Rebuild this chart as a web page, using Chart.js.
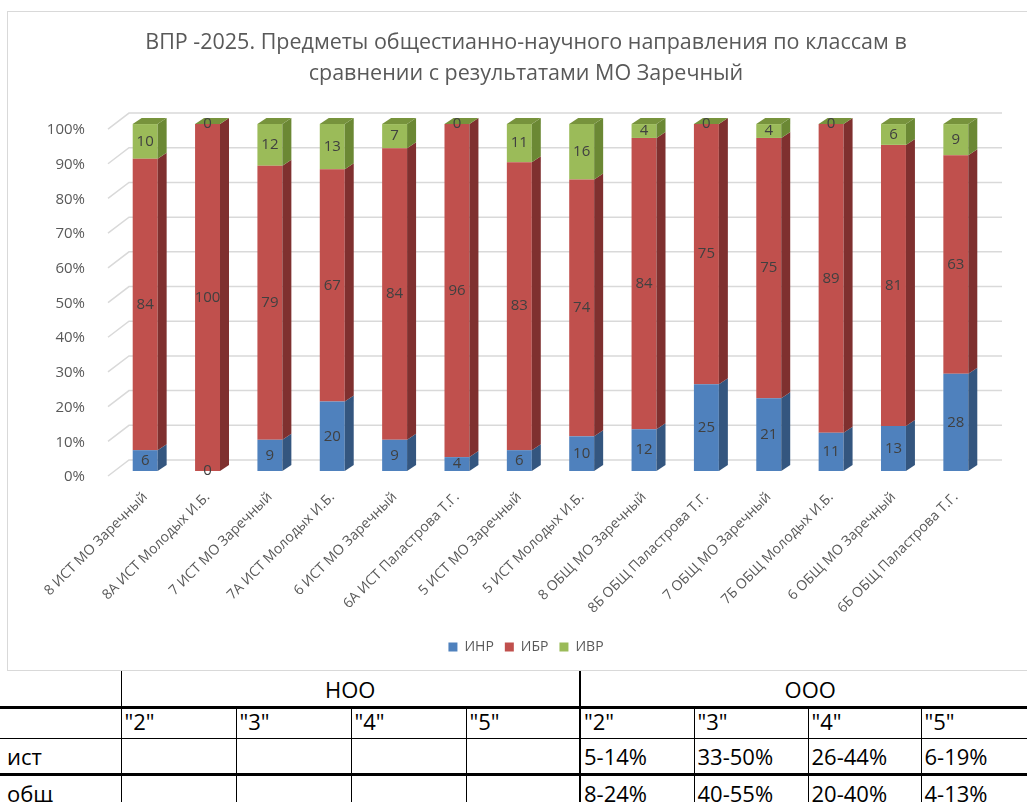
<!DOCTYPE html>
<html>
<head>
<meta charset="utf-8">
<script src="https://cdn.jsdelivr.net/npm/chart.js@4/dist/chart.umd.min.js"></script>
<style>
	body { margin: 0; background: #fff; overflow: hidden; width: 1027px; height: 802px; position: relative; }
	#chart-box { position: absolute; left: 7px; top: 11px; width: 1040px; height: 660px; box-sizing: border-box; border: 1px solid #d9d9d9; }
	#chart { position: absolute; left: 0; top: 0; }
	#norms { position: absolute; left: 0; top: 671px; border-collapse: collapse; table-layout: fixed; width: 1040px;
		font-family: "Open Sans", sans-serif; font-size: 22px; color: #000; }
	#norms td { box-sizing: border-box; border: 1px solid #000; padding: 0 3px 5px 3px; vertical-align: bottom; white-space: nowrap; overflow: hidden; line-height: 24px; }
	#norms tr td:first-child { border-left: none; padding-left: 7px; }
	#norms tr:first-child td { border-top: none; height: 36px; text-align: center; }
	#norms tr:first-child td:first-child { text-align: left; }
	#norms tr.grades td { height: 29px; }
	#norms tr.thick td { border-bottom: 3px solid #000; }
	#norms tr.ist td { height: 36px; }
	#norms tr.soc td { height: 36px; }
	#norms td.split { border-right: 2px solid #000; }
</style>
</head>
<body>
<div id="chart-box"></div>
<canvas id="chart" width="1027" height="671"></canvas>
<table id="norms"></table>

<script>

	// classes / teachers
	var classLabels = [
		'8 ИСТ МО Заречный', '8А ИСТ Молодых И.Б.', '7 ИСТ МО Заречный', '7А ИСТ Молодых И.Б.',
		'6 ИСТ МО Заречный', '6А ИСТ Паластрова Т.Г.', '5 ИСТ МО Заречный', '5 ИСТ Молодых И.Б.',
		'8 ОБЩ МО Заречный', '8Б ОБЩ Паластрова Т.Г.', '7 ОБЩ МО Заречный', '7Б ОБЩ Молодых И.Б.',
		'6 ОБЩ МО Заречный', '6Б ОБЩ Паластрова Т.Г.'
	];
	var inrValues = [6, 0, 9, 20, 9, 4, 6, 10, 12, 25, 21, 11, 13, 28];
	var ibrValues = [84, 100, 79, 67, 84, 96, 83, 74, 84, 75, 75, 89, 81, 63];
	var ivrValues = [10, 0, 12, 13, 7, 0, 11, 16, 4, 0, 4, 0, 6, 9];
	var seriesNames = ['ИНР', 'ИБР', 'ИВР'];

	// table under the chart
	var levelNames = ['НОО', 'ООО'];
	var gradeNames = ['"2"', '"3"', '"4"', '"5"'];
	var istRanges = ['', '', '', '', '5-14%', '33-50%', '26-44%', '6-19%'];
	var socRanges = ['', '', '', '', '8-24%', '40-55%', '20-40%', '4-13%'];

	var frontColors = ['#4f81bd', '#c0504d', '#9bbb59'];
	var sideColors = ['#34567f', '#7f302f', '#6b8834'];
	var topColor = '#77933c';
	var DX = 9, DY = 6;

	var backWall = {
		id: 'backWall',
		beforeDatasetsDraw: function (chart) {
			var ctx = chart.ctx, y = chart.scales.y, area = chart.chartArea;
			ctx.save();
			ctx.strokeStyle = '#d9d9d9';
			ctx.lineWidth = 1.5;
			y.ticks.forEach(function (t) {
				var py = y.getPixelForValue(t.value);
				ctx.beginPath();
				ctx.moveTo(area.left - 6, py + 5);
				ctx.lineTo(area.left + 15, py - 11);
				ctx.lineTo(area.right + 15, py - 11);
				ctx.stroke();
			});
			ctx.restore();
		}
	};

	var bars3d = {
		id: 'bars3d',
		afterDatasetsDraw: function (chart) {
			var ctx = chart.ctx;
			var last = chart.data.datasets.length - 1;
			ctx.save();
			chart.data.datasets.forEach(function (ds, i) {
				chart.getDatasetMeta(i).data.forEach(function (bar) {
					var p = bar.getProps(['x', 'y', 'base', 'width'], true);
					var r = p.x + p.width / 2, l = p.x - p.width / 2;
					var top = Math.min(p.y, p.base), bottom = Math.max(p.y, p.base);
					if (bottom - top > 0) {
						ctx.fillStyle = sideColors[i];
						ctx.beginPath();
						ctx.moveTo(r, bottom);
						ctx.lineTo(r, top);
						ctx.lineTo(r + DX, top - DY);
						ctx.lineTo(r + DX, bottom - DY);
						ctx.closePath();
						ctx.fill();
					}
					if (i == last) {
						ctx.fillStyle = topColor;
						ctx.beginPath();
						ctx.moveTo(l, top);
						ctx.lineTo(r, top);
						ctx.lineTo(r + DX, top - DY);
						ctx.lineTo(l + DX, top - DY);
						ctx.closePath();
						ctx.fill();
					}
				});
			});
			// value labels
			ctx.font = '15px "Open Sans"';
			ctx.fillStyle = '#404040';
			ctx.textAlign = 'center';
			ctx.textBaseline = 'middle';
			chart.data.datasets.forEach(function (ds, i) {
				chart.getDatasetMeta(i).data.forEach(function (bar, j) {
					var p = bar.getProps(['x', 'y', 'base'], true);
					ctx.fillText(String(ds.data[j]), p.x, (p.y + p.base) / 2);
				});
			});
			ctx.restore();
		}
	};

	var valueLists = [inrValues, ibrValues, ivrValues];

	new Chart(document.getElementById('chart'), {
		type: 'bar',
		data: {
			labels: classLabels,
			datasets: seriesNames.map(function (name, i) {
				return {
					label: name,
					data: valueLists[i],
					backgroundColor: frontColors[i],
					barPercentage: 0.4,
					categoryPercentage: 1
				};
			})
		},
		options: {
			responsive: false,
			animation: false,
			devicePixelRatio: 1,
			layout: { padding: { left: 25, right: 0, top: 0, bottom: 7 } },
			plugins: {
				title: {
					display: true,
					text: ['ВПР -2025. Предметы общестианно-научного направления по классам в', 'сравнении с результатами МО Заречный'],
					color: '#595959',
					font: { family: '"Open Sans"', size: 21.5, weight: 'normal', lineHeight: 1.42 },
					padding: { top: 28, bottom: 35 }
				},
				legend: {
					position: 'bottom',
					labels: {
						boxWidth: 9, boxHeight: 9, padding: 11,
						color: '#595959',
						font: { family: '"Open Sans"', size: 14 }
					}
				},
				tooltip: { enabled: false }
			},
			scales: {
				x: {
					stacked: true,
					offset: true,
					grid: { display: false },
					border: { display: false },
					ticks: {
						minRotation: 45, maxRotation: 45, autoSkip: false, padding: 10,
						color: '#595959',
						font: { family: '"Open Sans"', size: 14 }
					},
					afterFit: function (s) { s.height = 158; }
				},
				y: {
					stacked: true,
					min: 0, max: 100,
					grid: { display: false },
					border: { display: false },
					ticks: {
						stepSize: 10, padding: 21, labelOffset: 6,
						color: '#595959',
						font: { family: '"Open Sans"', size: 15 },
						callback: function (v) { return v + '%'; }
					},
					afterFit: function (s) { s.width = 89; }
				},
				// empty right axis keeps room for the 3D depth
				yRight: {
					position: 'right',
					grid: { display: false },
					border: { display: false },
					ticks: { display: false },
					afterFit: function (s) { s.width = 40; }
				}
			}
		},
		plugins: [backWall, bars3d]
	});

	// build the table
	var table = document.getElementById('norms');
	var widths = [121, 115, 115, 115, 114, 114, 114, 113, 119];
	var html = '<colgroup>' + widths.map(function (w) { return '<col style="width:' + w + 'px">'; }).join('') + '</colgroup>';
	html += '<tr class="thick"><td></td><td colspan="4" class="split">' + levelNames[0] + '</td><td colspan="4">' + levelNames[1] + '</td></tr>';
	html += '<tr class="grades"><td></td>';
	for (var k = 0; k < 8; k++) {
		html += '<td' + (k == 3 ? ' class="split"' : '') + '>' + gradeNames[k % 4] + '</td>';
	}
	html += '</tr>';
	html += '<tr class="ist thick"><td>ист</td>';
	istRanges.forEach(function (v, k) { html += '<td' + (k == 3 ? ' class="split"' : '') + '>' + v + '</td>'; });
	html += '</tr>';
	html += '<tr class="soc"><td>общ</td>';
	socRanges.forEach(function (v, k) { html += '<td' + (k == 3 ? ' class="split"' : '') + '>' + v + '</td>'; });
	html += '</tr>';
	table.innerHTML = html;

</script>
</body>
</html>
